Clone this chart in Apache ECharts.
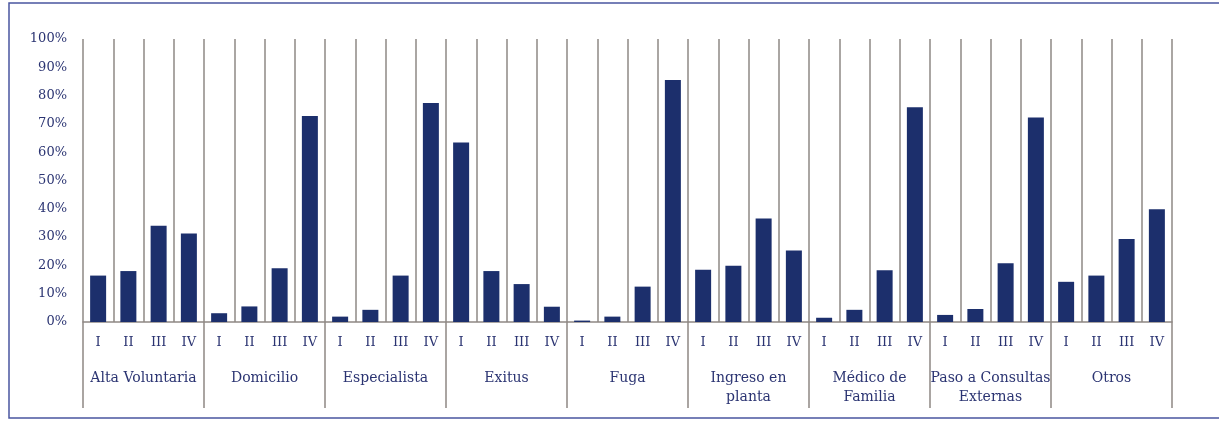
<!DOCTYPE html>
<html>
<head>
<meta charset="utf-8">
<script src="https://cdn.jsdelivr.net/npm/echarts@6/dist/echarts.min.js"></script>
<style>
html,body{margin:0;padding:0;background:#fff;}
#chart{width:1219px;height:421px;}
</style>
</head>
<body>
<div id="chart"></div>
<script>
const groups = ["Alta Voluntaria", "Domicilio", "Especialista", "Exitus", "Fuga", "Ingreso en\nplanta", "Médico de\nFamilia", "Paso a Consultas\nExternas", "Otros"];
const levels = ["I", "II", "III", "IV"];
const altaVoluntaria = [16.4, 18.0, 34.0, 31.3];
const domicilio = [3.1, 5.5, 19.0, 72.8];
const especialista = [1.9, 4.3, 16.4, 77.4];
const exitus = [63.4, 18.0, 13.4, 5.4];
const fuga = [0.5, 1.9, 12.5, 85.5];
const ingresoPlanta = [18.5, 19.9, 36.6, 25.3];
const medicoFamilia = [1.5, 4.3, 18.3, 75.9];
const pasoConsultas = [2.5, 4.6, 20.8, 72.3];
const otros = [14.2, 16.4, 29.3, 39.8];
const yTicks = [0, 10, 20, 30, 40, 50, 60, 70, 80, 90, 100];

const groupValues = [altaVoluntaria, domicilio, especialista, exitus, fuga, ingresoPlanta, medicoFamilia, pasoConsultas, otros];
const xCats = [];
const values = [];
groupValues.forEach(function (g) {
  g.forEach(function (v, i) { xCats.push(levels[i]); values.push(v); });
});

const txt = '#2b3472';
const gray = '#8e8884';
const font = '"DejaVu Serif", "Liberation Serif", serif';

const chart = echarts.init(document.getElementById('chart'), null, {renderer: 'canvas'});
chart.setOption({
  animation: false,
  backgroundColor: '#ffffff',
  graphic: [{
    type: 'rect',
    shape: {x: 9, y: 3, width: 1230, height: 415},
    style: {fill: 'none', stroke: '#4a55a0', lineWidth: 1.5},
    silent: true
  }],
  grid: {left: 83, right: 47, top: 39, bottom: 99, containLabel: false},
  xAxis: [{
    type: 'category',
    data: xCats,
    position: 'bottom',
    axisLine: {show: true, lineStyle: {color: gray, width: 1.5}},
    axisTick: {show: false},
    splitLine: {show: true, interval: 0, lineStyle: {color: gray, width: 1.5}},
    axisLabel: {interval: 0, margin: 14, color: txt, fontFamily: font, fontSize: 13}
  }, {
    type: 'category',
    data: groups,
    position: 'bottom',
    axisLine: {show: false},
    axisTick: {show: true, length: 86, interval: 0, lineStyle: {color: gray, width: 1.5}},
    axisLabel: {interval: 0, margin: 47, color: txt, fontFamily: font, fontSize: 14, lineHeight: 19}
  }],
  yAxis: {
    type: 'value',
    min: 0, max: 100, interval: 10,
    axisLine: {show: false},
    axisTick: {show: false},
    splitLine: {show: false},
    axisLabel: {
      margin: 16, color: txt, fontFamily: font, fontSize: 13,
      padding: [5, 0, 0, 0],
      formatter: function (v) { return yTicks.indexOf(v) >= 0 ? v + '%' : ''; }
    }
  },
  series: [{
    type: 'bar',
    xAxisIndex: 0,
    data: values,
    barWidth: 16,
    itemStyle: {color: '#1c2f6c'}
  }]
});
</script>
</body>
</html>
